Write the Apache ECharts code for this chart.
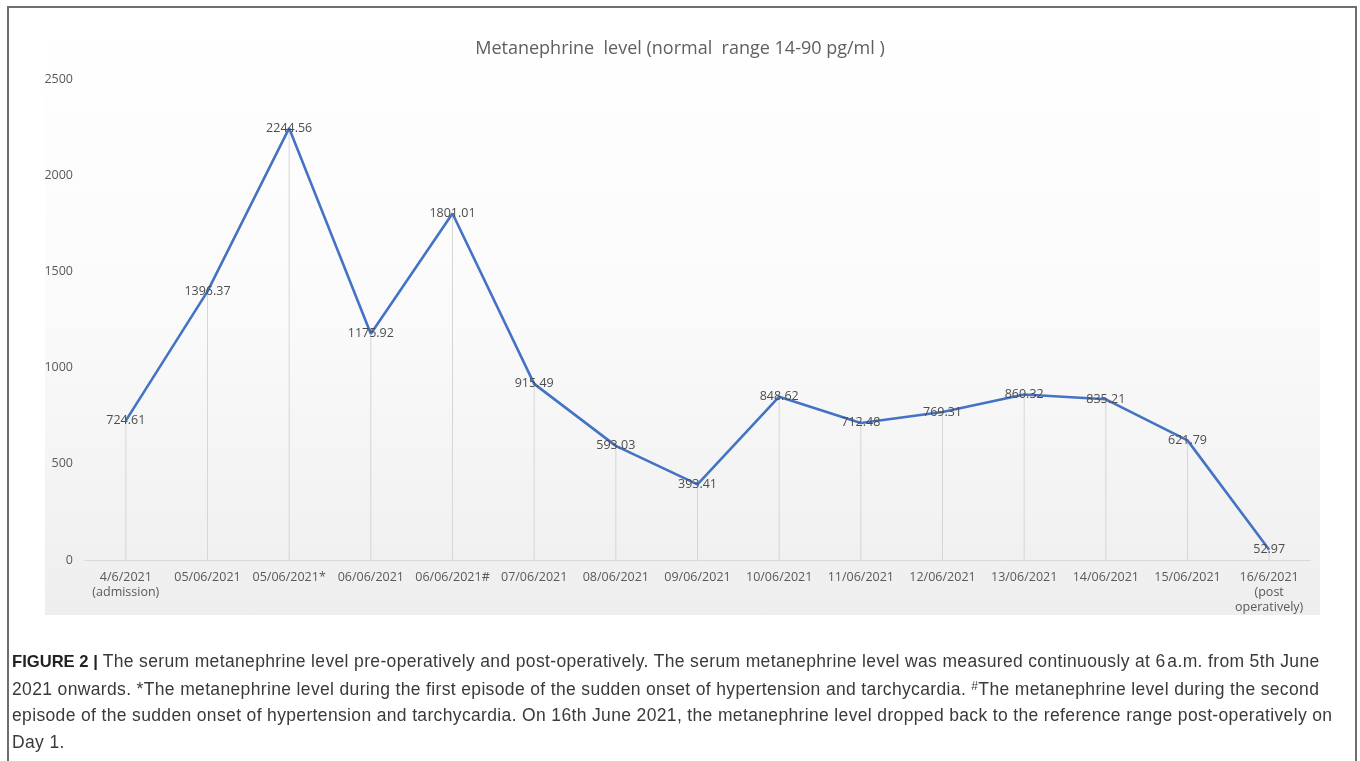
<!DOCTYPE html>
<html>
<head>
<meta charset="utf-8">
<script src="https://cdn.jsdelivr.net/npm/echarts@6/dist/echarts.min.js"></script>
<style>
  html, body { margin: 0; padding: 0; background: #fff; }
  #frame {
    position: absolute; left: 7px; top: 6px; width: 1346px; height: 800px;
    border: 2px solid #6e6e6e; border-bottom: none;
  }
  #plotBg {
    position: absolute; left: 45px; top: 25px; width: 1275px; height: 590px;
    background: linear-gradient(to bottom, #ffffff 0%, #fafafa 50%, #eeeeee 100%);
  }
  #chart { position: absolute; left: 0; top: 0; width: 1360px; height: 630px; }
  #caption {
    position: absolute; left: 12px; top: 648px; width: 1340px;
    font-family: "Liberation Sans", Arial, sans-serif; font-size: 17.5px;
    letter-spacing: 0.35px;
    line-height: 26.7px; color: #3a3a3a; white-space: nowrap;
  }
  #caption b { color: #222; font-size: 16.6px; letter-spacing: 0; }
  #caption sup { font-size: 12px; vertical-align: 5px; line-height: 0; }
</style>
</head>
<body>
<div id="plotBg"></div>
<div id="chart"></div>
<div id="frame"></div>
<div id="caption">
<b>FIGURE 2 |</b> The serum metanephrine level pre-operatively and post-operatively. The serum metanephrine level was measured continuously at 6&#8202;a.m. from 5th June<br>
2021 onwards. *The metanephrine level during the first episode of the sudden onset of hypertension and tarchycardia. <sup>#</sup>The metanephrine level during the second<br>
episode of the sudden onset of hypertension and tarchycardia. On 16th June 2021, the metanephrine level dropped back to the reference range post-operatively on<br>
Day 1.
</div>
<script>
// categories
const categories = [
  '4/6/2021\n(admission)', '05/06/2021', '05/06/2021*', '06/06/2021', '06/06/2021#',
  '07/06/2021', '08/06/2021', '09/06/2021', '10/06/2021', '11/06/2021',
  '12/06/2021', '13/06/2021', '14/06/2021', '15/06/2021', '16/6/2021\n(post\noperatively)'
];
// metanephrine values (pg/ml)
const levels = [
  724.61, 1396.37, 2244.56, 1175.92, 1801.01,
  915.49, 593.03, 393.41, 848.62, 712.48,
  769.31, 860.32, 835.21, 621.79, 52.97
];
const yTicks = [0, 500, 1000, 1500, 2000, 2500];

let myChart = echarts.init(document.getElementById('chart'));
myChart.setOption({
  backgroundColor: 'transparent',
  animation: false,
  title: {
    text: 'Metanephrine  level (normal  range 14-90 pg/ml )',
    left: 'center',
    top: 35,
    textStyle: { fontFamily: 'Open Sans', fontSize: 18, fontWeight: 'normal', color: '#5f5f5f' }
  },
  grid: { left: 85, right: 50, top: 79, bottom: 70 },
  xAxis: {
    type: 'category',
    data: categories,
    axisLine: { lineStyle: { color: '#d9d9d9', width: 1 } },
    axisTick: { show: false },
    axisLabel: {
      fontFamily: 'Open Sans', fontSize: 12.5, color: '#595959',
      lineHeight: 15, margin: 10, interval: 0
    }
  },
  yAxis: {
    type: 'value',
    min: yTicks[0],
    max: yTicks[yTicks.length - 1],
    interval: 500,
    splitLine: { show: false },
    axisLine: { show: false },
    axisTick: { show: false },
    axisLabel: {
      fontFamily: 'Open Sans', fontSize: 12.5, color: '#595959', margin: 12,
      formatter: v => String(v)
    }
  },
  series: [
    {
      name: 'drop',
      type: 'bar',
      data: levels,
      barWidth: 1,
      silent: true,
      itemStyle: { color: '#d6d6d6' },
      z: 1
    },
    {
      name: 'Metanephrine',
      type: 'line',
      data: levels,
      showSymbol: true,
      symbol: 'circle',
      symbolSize: 0,
      lineStyle: { color: '#4472c4', width: 2.6 },
      label: {
        show: true,
        position: 'inside',
        fontFamily: 'Open Sans',
        fontSize: 12.5,
        color: '#4d4d4d',
        formatter: p => p.value.toFixed(2)
      },
      z: 3
    }
  ]
});
</script>
</body>
</html>
